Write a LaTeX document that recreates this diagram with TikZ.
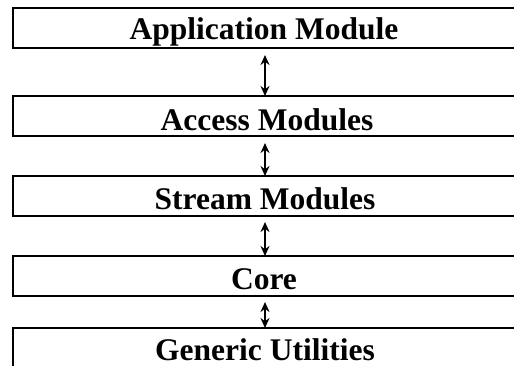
\documentclass[tikz,border=0pt]{standalone}
\usepackage{fontspec}
\setmainfont{Liberation Serif}
\usetikzlibrary{arrows.meta}
\begin{document}
\begin{tikzpicture}[x=1pt,y=1pt,
  layer/.style={draw=black,line width=2pt,minimum width=527pt,inner sep=0pt,outer sep=0pt,anchor=north west},
  lbl/.style={anchor=base,inner sep=0pt,font=\bfseries\fontsize{31.5}{36}\selectfont},
  link/.style={line width=2pt,{Stealth[length=10pt,width=9pt]}-{Stealth[length=10pt,width=9pt]}}]
\useasboundingbox (0,0) rectangle (514,366);
\clip (0,0) rectangle (514,366);
\node[layer,minimum height=40pt] (b1) at (13,358) {};
\node[layer,minimum height=40pt] (b2) at (13,270) {};
\node[layer,minimum height=40pt] (b3) at (13,190) {};
\node[layer,minimum height=40pt] (b4) at (13,110) {};
\node[layer,minimum height=60pt] (b5) at (13,38) {};
\node[lbl] (t1) at (264,326) {Application Module};
\node[lbl] (t2) at (267,235) {Access Modules};
\node[lbl] (t3) at (265,156) {Stream Modules};
\node[lbl] (t4) at (264,76) {Core};
\node[lbl] (t5) at (265,5) {Generic Utilities};
\coordinate (ax) at (265,0);
\draw[link] ([yshift=-7pt]b1.south -| ax) -- (b2.north -| ax);
\draw[link] ([yshift=-7pt]b2.south -| ax) -- (b3.north -| ax);
\draw[link] ([yshift=-6pt]b3.south -| ax) -- (b4.north -| ax);
\draw[link] ([yshift=-6pt]b4.south -| ax) -- (b5.north -| ax);
\end{tikzpicture}
\end{document}
